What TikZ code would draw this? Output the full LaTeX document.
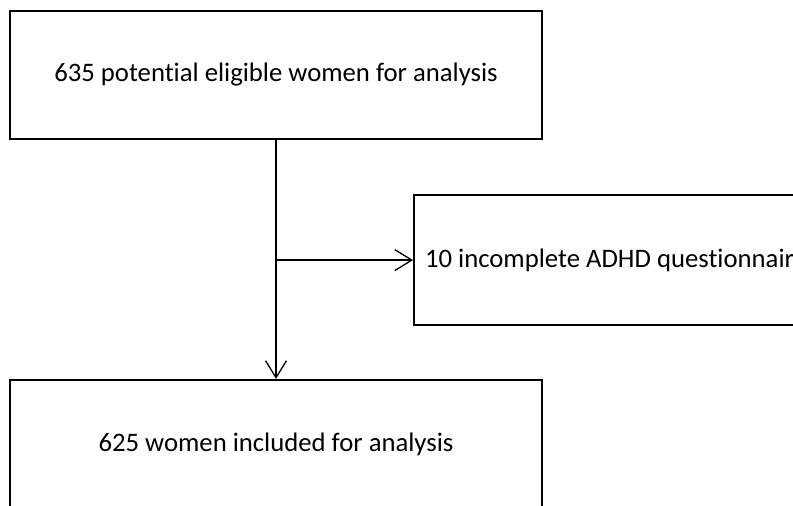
\documentclass[tikz,border=0pt]{standalone}
\usepackage{fontspec}
\setmainfont{Carlito}[Ligatures=NoCommon]
\usetikzlibrary{arrows.meta,positioning}
\begin{document}
\begin{tikzpicture}[x=1pt,y=-1pt,
  fbox/.style={draw,line width=2.2pt,minimum width=532pt,minimum height=128pt,inner sep=0pt,font=\fontsize{26.7}{32}\selectfont},
  flink/.style={line width=1.3pt,-{Straight Barb[length=17pt,width=21pt,line width=1.3pt]}}]
\useasboundingbox (0,0) rectangle (793,506);
\clip (0,0) rectangle (793,506);
\node[fbox](top) at (276,75){635 potential eligible women for analysis};
\node[fbox,anchor=north west,minimum width=500pt,minimum height=130pt,text width=480pt,align=flush left,inner xsep=11pt](excl) at (413,194){10 incomplete ADHD questionnaires};
\node[fbox](incl) at (276,444){625 women included for analysis};
%\draw[gray,dashed](top.south)--(incl.north);
\coordinate (branch) at (top.south |- excl.west);
\draw[flink](top.south)--(incl.north);
\draw[flink](branch)--(excl.west);
\end{tikzpicture}
\end{document}
